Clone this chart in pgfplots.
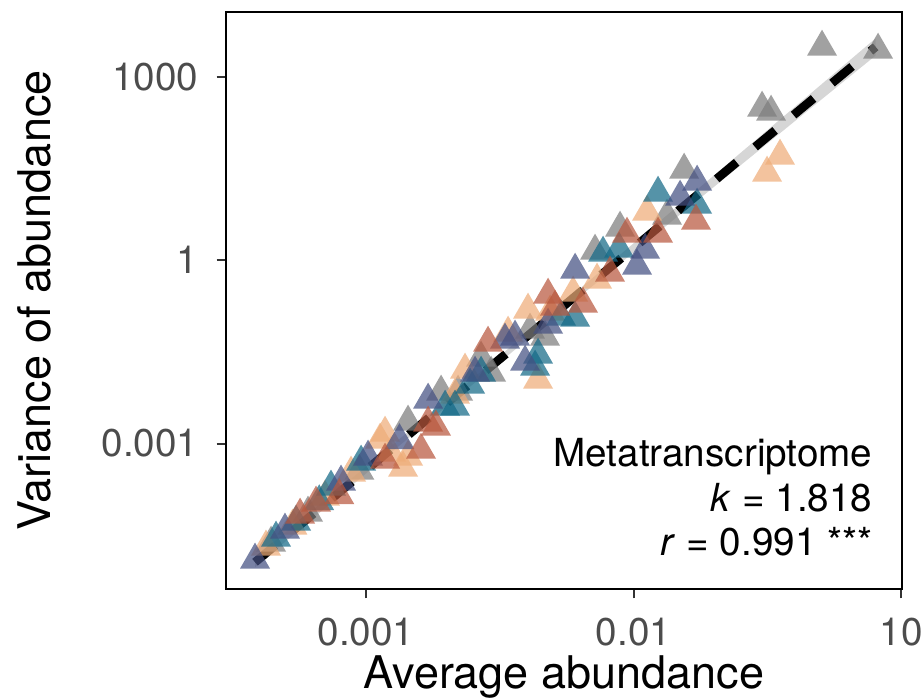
\documentclass[border=0pt]{standalone}
\usepackage{fontspec}
\setmainfont{TeX Gyre Heros}
\usepackage{pgfplots}
\pgfplotsset{compat=1.18}
\definecolor{cgray}{RGB}{125,125,125}
\definecolor{corange}{RGB}{238,172,120}
\definecolor{csalmon}{RGB}{185,88,62}
\definecolor{cteal}{RGB}{20,105,135}
\definecolor{cslate}{RGB}{68,80,130}
\pgfplotsset{tri/.style={only marks, mark=triangle*, mark size=13pt, color=#1,
  mark options={fill=#1, draw opacity=0, fill opacity=0.72}}}
\begin{document}
\begin{tikzpicture}
\useasboundingbox (-169.5pt,-81.75pt) rectangle (522.75pt,441.75pt);
\begin{axis}[
  at={(0,0)}, anchor=south west,
  scale only axis, width=507pt, height=432.75pt,
  xmin=-4.047, xmax=1.007, ymin=-5.381, ymax=4.064,
  axis line style={line width=2pt, black},
  tick align=outside, major tick length=7pt,
  tick pos=left,
  every tick/.style={line width=1.5pt, color=black!80},
  xtick={-3,-1,1}, xticklabels={0.001,0.01,10},
  ytick={-3,0,3}, yticklabels={0.001,1,1000},
  ticklabel style={font=\fontsize{29}{29}\selectfont, text=black!70, inner sep=0pt},
  xticklabel style={anchor=base, yshift=-35.25pt},
  yticklabel style={anchor=east, xshift=-13.5pt},
  xlabel={Average abundance}, ylabel={Variance of abundance},
  label style={font=\fontsize{33.75}{33.75}\selectfont, inner sep=0pt},
  xlabel style={at={(axis description cs:0.5,-0.1733)}, anchor=base},
  ylabel style={at={(axis description cs:-0.2589,0.5)}, anchor=base},
  clip=false,
]
\addplot[tri=cgray] coordinates {
(0.828,3.442) (0.409,3.491) (-0.039,2.493) (0.028,2.427) (-0.622,1.478) (-0.750,0.725)
(-1.101,0.529) (-1.288,0.152) (-3.710,-4.627) (-3.434,-4.136) (-2.686,-2.646)
(-2.439,-2.155) (-2.312,-2.155) (-2.065,-1.845) (-2.140,-1.599) (-1.662,-1.255) (-3.05,-3.45)
(-1.774,-1.141)
};
\addplot[tri=corange] coordinates {
(0.095,1.707) (-0.002,1.429) (-0.899,0.791) (-1.273,-0.322) (-1.452,-0.535) (-3.748,-4.692)
(-3.307,-3.874) (-3.112,-3.481) (-2.813,-3.154) (-2.895,-2.941) (-2.858,-2.827) (-2.723,-3.399)
(-2.686,-3.219) (-2.260,-1.795) (-1.938,-1.190) (-1.714,-1.959) (-1.789,-0.813) (-3.55,-4.35)
(-1.624,-0.846) (-2.335,-2.205)
};
\addplot[tri=cteal] coordinates {
(-0.817,1.101) (-0.525,0.905) (-1.228,0.119) (-1.108,0.185) (-3.673,-4.545) (-3.523,-4.283)
(-3.262,-3.710) (-3.037,-3.301) (-2.409,-2.401) (-2.335,-2.401) (-2.140,-1.845) (-1.736,-1.746)
(-1.714,-1.550) (-1.542,-0.928) (-1.437,-0.944) (-3.35,-3.95) (-2.222,-2.041)
};
\addplot[tri=cslate] coordinates {
(-0.525,1.282) (-0.652,1.036) (-0.914,0.169) (-0.974,-0.093) (-1.437,-0.159) (-3.830,-4.905)
(-3.187,-3.628) (-2.985,-3.219) (-2.536,-2.286) (-2.185,-1.845) (-1.886,-1.255) (-1.811,-1.664)
(-1.639,-1.059) (-3.606,-4.414) (-2.75,-2.95) (-1.961,-1.304)
};
\addplot[tri=csalmon] coordinates {
(-0.533,0.643) (-0.817,0.430) (-1.049,0.430) (-1.176,-0.208) (-1.378,-0.715) (-3.374,-3.972)
(-2.858,-3.268) (-2.589,-3.105) (-2.536,-2.663) (-2.477,-2.728) (-2.088,-1.354) (-1.587,-0.764)
(-3.493,-4.169) (-1.639,-0.568) (-3.2,-3.85)
};
% confidence ribbon
\addplot[fill=black!40, fill opacity=0.4, draw=none, mark=none] coordinates {
(-3.83,-4.862) (-3,-3.378) (-2.3,-2.113) (-1.5,-0.648) (-0.5,1.201) (0,2.129) (0.4,2.871) (0.81,3.634)
(0.81,3.352) (0.4,2.623) (0,1.911) (-0.5,1.021) (-1.5,-0.766) (-2.3,-2.209) (-3,-3.490) (-3.83,-5.024)
} -- cycle;
% fitted line
\addplot[black, line width=6.5pt, dash pattern=on 19.5pt off 18pt, mark=none] coordinates {
(-3.83,-4.943) (0.81,3.493)
};
\node[anchor=base east, font=\fontsize{29}{29}\selectfont] at (axis cs:0.821,-3.383) {Metatranscriptome};
\node[anchor=base east, font=\fontsize{29}{29}\selectfont] at (axis cs:0.821,-4.119) {\textit{k} = 1.818};
\node[anchor=base east, font=\fontsize{29}{29}\selectfont] at (axis cs:0.821,-4.840) {\textit{r} = 0.991 ***};
\end{axis}
\end{tikzpicture}
\end{document}
